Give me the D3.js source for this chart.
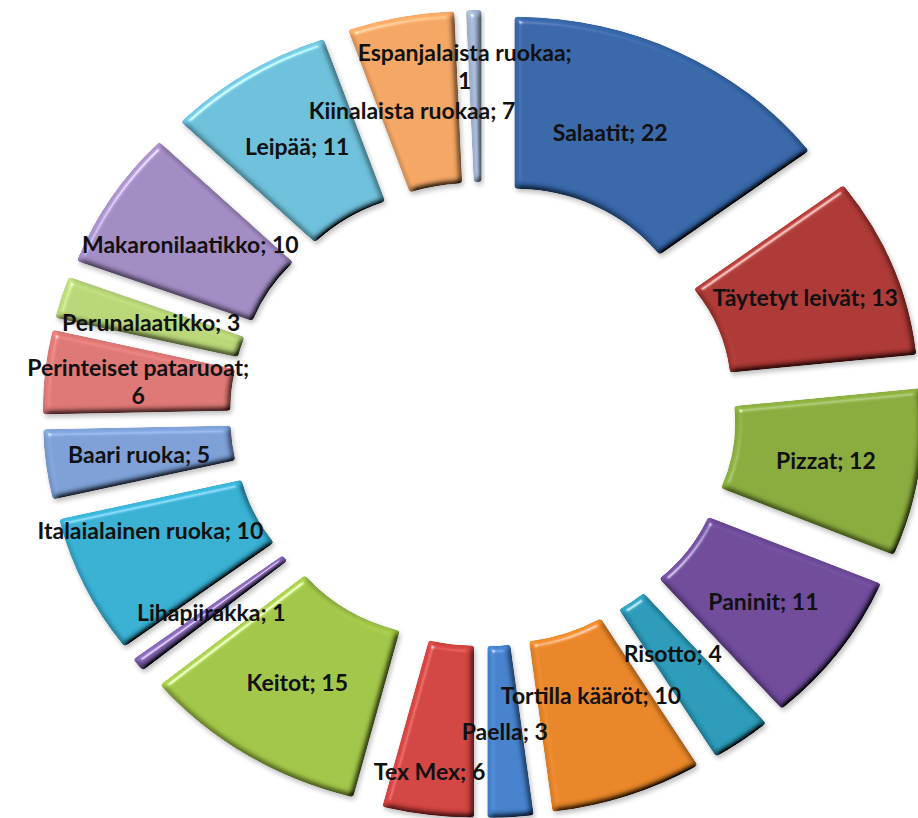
<!DOCTYPE html>
<html>
<head>
<meta charset="utf-8">
<script src="https://cdn.jsdelivr.net/npm/d3@7"></script>
<style>
  html, body { margin: 0; padding: 0; background: #ffffff; overflow: hidden; }
  text { font-family: Lato, "Open Sans", sans-serif; font-weight: 700; }
</style>
</head>
<body>
<svg id="chart" width="918" height="818"></svg>
<script>
// Categories clockwise from 12 o'clock
const categories = [
  "Salaatit", "Täytetyt leivät", "Pizzat", "Paninit", "Risotto",
  "Tortilla kääröt", "Paella", "Tex Mex", "Keitot", "Lihapiirakka",
  "Italaialainen ruoka", "Baari ruoka", "Perinteiset pataruoat",
  "Perunalaatikko", "Makaronilaatikko", "Leipää", "Kiinalaista ruokaa",
  "Espanjalaista ruokaa"
];
const values = [22, 13, 12, 11, 4, 10, 3, 6, 15, 1, 10, 5, 6, 3, 10, 11, 7, 1];
const colors = [
  "#3767a9", "#ad3935", "#8aac3e", "#6f4b9b", "#2c9bb9",
  "#e88628", "#4682cd", "#d24442", "#a2c648", "#8062ac",
  "#37b0d2", "#7da0d7", "#de7876", "#b9d678", "#a28cc4",
  "#6ec0da", "#f4a664", "#a5b6d4"
];
// Labels that wrap onto a second line before the value
const wrappedLabels = ["Perinteiset pataruoat", "Espanjalaista ruokaa"];
// Label shifts where neighbouring labels would collide
const labelShift = {
  "Salaatit": [-27, 3],
  "Risotto": [-14, -18],
  "Tortilla kääröt": [-6, -19],
  "Tex Mex": [-10, 42],
  "Italaialainen ruoka": [-19, -19],
  "Kiinalaista ruokaa": [-6, 8],
  "Espanjalaista ruokaa": [-11, -30]
};

// Layout
const cx = 483, cy = 414;
const outerR = 339, innerR = 167, explode = 65;
const stretchX = 1.09;
const fontSize = 23, lineGap = 28;

const svg = d3.select("#chart");
const defs = svg.append("defs");

// Bevel: blurred alpha used as a height map, lit from the upper left
const bevel = defs.append("filter").attr("id", "bevel")
  .attr("x", "-10%").attr("y", "-10%").attr("width", "120%").attr("height", "120%");
bevel.append("feGaussianBlur").attr("in", "SourceAlpha").attr("stdDeviation", 3).attr("result", "blur");
bevel.append("feDiffuseLighting").attr("in", "blur").attr("surfaceScale", 6)
  .attr("diffuseConstant", 1).attr("lighting-color", "#ffffff").attr("result", "diff")
  .append("feDistantLight").attr("azimuth", 235).attr("elevation", 55);
bevel.append("feComposite").attr("in", "SourceGraphic").attr("in2", "diff")
  .attr("operator", "arithmetic").attr("k1", 1.22).attr("k2", 0).attr("k3", 0).attr("k4", 0)
  .attr("result", "lit");
bevel.append("feSpecularLighting").attr("in", "blur").attr("surfaceScale", 6)
  .attr("specularConstant", 0.5).attr("specularExponent", 45).attr("lighting-color", "#ffffff")
  .attr("result", "spec")
  .append("feDistantLight").attr("azimuth", 235).attr("elevation", 35);
bevel.append("feComposite").attr("in", "spec").attr("in2", "SourceAlpha")
  .attr("operator", "in").attr("result", "specIn");
bevel.append("feComposite").attr("in", "lit").attr("in2", "specIn")
  .attr("operator", "arithmetic").attr("k1", 0).attr("k2", 1).attr("k3", 1).attr("k4", 0)
  .attr("result", "bev");
bevel.append("feComposite").attr("in", "bev").attr("in2", "SourceAlpha").attr("operator", "in");

// Soft drop shadow under each segment
defs.append("filter").attr("id", "shadow")
  .attr("x", "-10%").attr("y", "-10%").attr("width", "120%").attr("height", "120%")
  .append("feGaussianBlur").attr("stdDeviation", 2.5);

const pie = d3.pie().sort(null).value(d => d.value).startAngle(0).endAngle(2 * Math.PI);
const arc = d3.arc().innerRadius(innerR).outerRadius(outerR).cornerRadius(3);
const mid = d3.arc().innerRadius(innerR).outerRadius(outerR);

const data = categories.map((c, i) => ({ name: c, value: values[i], color: colors[i] }));
const arcs = pie(data);

// Offset of an exploded segment along its bisector
function offset(a) {
  const m = (a.startAngle + a.endAngle) / 2;
  return [explode * Math.sin(m), -explode * Math.cos(m)];
}

const ring = svg.append("g")
  .attr("transform", `translate(${cx},${cy}) scale(${stretchX},1)`);

const seg = ring.selectAll("g.seg").data(arcs).join("g")
  .attr("class", "seg")
  .attr("transform", d => { const [ox, oy] = offset(d); return `translate(${ox},${oy})`; });

seg.append("path")
  .attr("d", arc)
  .attr("transform", "translate(1.5,3)")
  .attr("fill", "#000")
  .attr("opacity", 0.25)
  .attr("filter", "url(#shadow)");

seg.append("path")
  .attr("d", arc)
  .attr("fill", d => d.data.color)
  .attr("filter", "url(#bevel)");

// Data labels at each segment's centroid
const labels = svg.append("g");
arcs.forEach(a => {
  const [ox, oy] = offset(a);
  const [mx, my] = mid.centroid(a);
  const shift = labelShift[a.data.name] || [0, 0];
  const x = cx + stretchX * (mx + ox) + shift[0];
  const y = cy + my + oy + shift[1];
  const t = labels.append("text")
    .attr("text-anchor", "middle")
    .attr("dominant-baseline", "central")
    .attr("font-size", fontSize)
    .attr("fill", "#111");
  if (wrappedLabels.includes(a.data.name)) {
    t.append("tspan").attr("x", x).attr("y", y - lineGap / 2).text(a.data.name + ";");
    t.append("tspan").attr("x", x).attr("y", y + lineGap / 2).text(a.data.value);
  } else {
    t.attr("x", x).attr("y", y).text(`${a.data.name}; ${a.data.value}`);
  }
});
</script>
</body>
</html>
